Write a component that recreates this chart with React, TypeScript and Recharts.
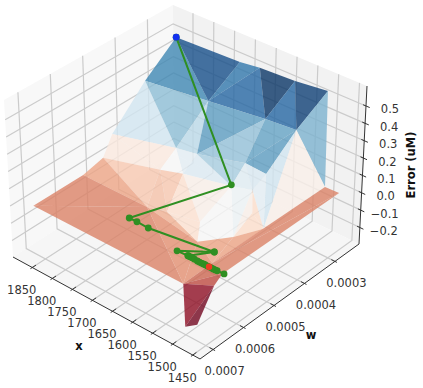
import React from 'react';
import { ScatterChart, Scatter, XAxis, YAxis } from 'recharts';

const xTicks = [1450, 1500, 1550, 1600, 1650, 1700, 1750, 1800, 1850];
const wTicks = [0.0003, 0.0004, 0.0005, 0.0006, 0.0007];
const errTicks = [-0.2, -0.1, 0, 0.1, 0.2, 0.3, 0.4, 0.5];
const xLimits = [1432, 1898];
const wLimits = [0.000221, 0.000743];
const errLimits = [-0.295, 0.615];

const surfaceIds = ['P0','P1','P2','P3','P4','Q0','Q1','Q2','Q3','R0','R1','R2','R3','R4','S0','S1','S2','S3','S4','T0','T1','T2','T3','T4','T5','Y0','Y1','U0','V0','W','U1','SB','SC','SD','G1','G2','G3'];
const surfaceX = [1872,1718,1670,1585,1506,1872,1718,1580,1505,1867,1710,1659,1542,1491,1858,1717,1661,1543,1492,1838,1681,1632,1551,1504,1504,1875,1506,1469,1504,1521,1476,1466,1502,1479,1526,1462,1456];
const surfaceW = [245,245,245,245,245,343,343,343,343,455,455,455,455,455,497,497,497,497,497,586,586,586,586,531,443,699,699,245,245,586,612,652,699,690,627,596,544].map(v => v * 1e-6);
const surfaceErr = [0.474,0.489,0.505,0.516,0.539,0.321,0.371,0.414,0.43,0.136,0.233,0.255,0.332,0.325,0.053,0.146,0.187,0.249,0.282,0.077,0.076,0.105,0.14,0.095,-0.015,-0.019,-0.021,-0.012,-0.015,-0.056,-0.033,-0.042,-0.254,-0.227,0.105,0.168,0.248];

const triangles = [
  'P0 Q0 Q1','P0 Q1 P1','P1 Q1 P2','Q1 Q2 P2','P2 Q2 P3','Q2 Q3 P3','P3 Q3 P4','P4 Q3 V0',
  'Q0 R0 R1','Q0 Q1 R1','Q1 R1 R2','Q1 R2 Q2','Q2 R2 R3','Q2 R3 Q3','Q3 R3 R4',
  'R4 Q3 T5','Q3 T5 V0','R4 S4 T5',
  'R0 R1 S1','R0 S1 S0','R1 R2 S2','R1 S1 S2','R2 S3 S2','R2 R3 S3','R3 S3 S4','R3 S4 R4',
  'S0 S1 T1','S1 S2 T2','S1 T2 T1','S2 S3 T3','S2 T3 T2','S3 S4 G2','S3 G2 G1','S3 G1 T3','S4 T5 G3','G3 T5 G2','S4 G3 G2',
  'T1 T2 G1','T2 T3 G1',
  'S0 T0 T1','Y0 T0 T1','Y0 T1 Y1','T1 G1 Y1','G1 G2 W','G1 W Y1','G2 T5 W',
  'U0 V0 W','U0 W U1','Y1 W U1','Y1 U1 SB','Y1 SB SC','SB SC SD',
];
const triangleShades = [
  0.8,0.93,0.84,0.88,0.98,0.88,0.96,0.72,
  0.6,0.7,0.63,0.76,0.69,0.75,0.76,
  0.6,0.47,0.55,
  0.45,0.45,0.55,0.5,0.57,0.66,0.56,0.58,
  0.37,0.37,0.36,0.47,0.42,0.53,0.5,0.5,0.41,0.41,0.47,
  0.33,0.42,
  0.31,0.26,0.26,0.28,0.31,0.28,0.31,
  0.26,0.26,0.22,0.18,0.07,0.03,
];

const streakStart = [[1572,245,.525],[1558,245,.527],[1544,245,.529],[1530,245,.532],[1516,245,.536],[1565,343,.418],[1552,343,.42],[1540,343,.422],[1528,343,.425],[1516,343,.428],[1535,455,.33],[1525,455,.33],[1515,455,.328],[1505,455,.327],[1530,497,.26],[1520,497,.265],[1510,497,.27],[1500,497,.275],[1700,343,.375],[1690,455,.24],[1500,699,-.1],[1490,680,-.05]];
const streakEnd = [[1560,343,.418],[1545,343,.421],[1532,343,.424],[1520,343,.427],[1510,343,.429],[1535,455,.33],[1525,455,.33],[1515,455,.328],[1505,455,.327],[1495,455,.326],[1535,497,.252],[1525,497,.258],[1515,497,.265],[1505,497,.27],[1528,620,.11],[1510,615,.12],[1495,610,.14],[1478,605,.15],[1700,455,.24],[1680,497,.17],[1488,695,-.22],[1496,699,-.25]];

const pathX = [1872,1543,1726,1707,1679,1532,1588,1561,1532,1561,1556,1551,1545,1538,1533,1528,1523,1519,1514,1509,1504,1499,1494,1489,1472];
const pathW = [245,497,586,586,586,565,612,612,565,612,612,612,612,612,612,612,612,612,612,612,612,612,612,612,612].map(v => v * 1e-6);
const pathErr = [0.474,0.255,-0.04,-0.039,-0.042,-0.032,-0.035,-0.031,-0.032,-0.031,-0.031,-0.031,-0.032,-0.034,-0.034,-0.034,-0.033,-0.033,-0.033,-0.033,-0.033,-0.033,-0.033,-0.032,-0.03];
const startPoint = [1872, 0.000245, 0.474];
const bestPoint = [1509, 0.000612, -0.033];

const rdBu = [[103,0,31],[178,24,43],[214,96,77],[244,165,130],[253,219,199],[247,247,247],[209,229,240],[146,197,222],[67,147,195],[33,102,172],[5,48,97]];
function shadeColor(t: number) {
  const p = Math.max(0, Math.min(0.9999, t)) * 10, i = Math.floor(p), f = p - i;
  const lit = 1 - Math.min(0.08, 0.4 * Math.max(0, Math.abs(t - 0.5) - 0.1));
  const c = rdBu[i].map((v, k) => Math.round((v + (rdBu[i + 1][k] - v) * f) * lit));
  return `rgb(${c[0]},${c[1]},${c[2]})`;
}

// Box corners on the page: bottom and top of each vertical edge
const corners: any = { F0: [200,359], F1: [199,192], L0: [13,257], L1: [4,100], R0: [359,244], R1: [367,86], B0: [174,154], B1: [173,5] };
const mix = (p: number[], q: number[], t: number) => [p[0] + (q[0]-p[0])*t, p[1] + (q[1]-p[1])*t];
function project(x: number, w: number, e: number) {
  const a = (x - xLimits[0]) / (xLimits[1] - xLimits[0]);
  const b = (w - wLimits[0]) / (wLimits[1] - wLimits[0]);
  const c = (e - errLimits[0]) / (errLimits[1] - errLimits[0]);
  const f = mix(corners.F0, corners.F1, c), l = mix(corners.L0, corners.L1, c), r = mix(corners.R0, corners.R1, c), k = mix(corners.B0, corners.B1, c);
  const p = mix(mix(r, k, a), mix(f, l, a), b);
  return { px: p[0], py: p[1] };
}
const pt = (v: number[]) => project(v[0], v[1], v[2]);
const NoDot = () => null;
const polygonLine = (fill: string, opacity: number) => (props: any) => (
  <polygon points={props.points.map((q: any) => `${q.x},${q.y}`).join(' ')} fill={fill} fillOpacity={opacity} stroke="none" />
);
const strokeLine = (stroke: string, width: number, opacity = 1) => (props: any) => (
  <path d={'M' + props.points.map((q: any) => `${q.x},${q.y}`).join('L')} fill="none" stroke={stroke} strokeWidth={width} strokeOpacity={opacity} />
);
const Poly = (key: string, pts: number[][], fill: string, opacity = 1) => (
  <Scatter key={key} data={pts.map(pt)} isAnimationActive={false} shape={NoDot} line={polygonLine(fill, opacity)} />
);
const Seg = (key: string, pts: number[][], stroke: string, width: number, opacity = 1) => (
  <Scatter key={key} data={pts.map(pt)} isAnimationActive={false} shape={NoDot} line={strokeLine(stroke, width, opacity)} />
);
const dot = (fill: string, r: number, fillOpacity = 1) => (props: any) => <circle cx={props.cx} cy={props.cy} r={r} fill={fill} fillOpacity={fillOpacity} />;
const Label = (props: any) => {
  const d = props.payload || props;
  return (
    <text x={props.cx + (d.dx || 0)} y={props.cy + (d.dy || 0)} textAnchor="middle" dominantBaseline="central"
      fontFamily="DejaVu Sans" fontSize={11.5} fontWeight={d.bold ? 700 : 400} fill={d.bold ? '#111' : '#333'}
      transform={d.rot ? `rotate(${d.rot} ${props.cx} ${props.cy})` : undefined}>{d.text}</text>
  );
};

const [x0, x1] = xLimits, [w0, w1] = wLimits, [e0, e1] = errLimits;
const gridColor = '#cbcbcb';
const sign = (v: number) => (v < 0 ? '\u2212' + Math.abs(v).toFixed(1) : v.toFixed(1));
const labels = [
  ...xTicks.map(v => ({ ...project(v, w1, e0), dx: -10.5, dy: 22.5, text: String(v) })),
  ...wTicks.map(v => ({ ...project(x0, v, e0), dx: 11.5, dy: 21.5, text: v.toFixed(4) })),
  ...errTicks.map(v => ({ ...project(x0, w0, v), dx: 24, dy: 3.5, text: sign(v) })),
];
const axisTitles = [
  { px: 79, py: 346, text: 'x', bold: true },
  { px: 311, py: 335, text: 'w', bold: true },
  { px: 411, py: 165, text: 'Error (uM)', bold: true, rot: -90 },
];

export default function App() {
  const idx = (n: string) => surfaceIds.indexOf(n);
  const vert = (n: string) => { const i = idx(n); return [surfaceX[i], surfaceW[i], surfaceErr[i]]; };
  return (
    <div style={{ position: 'absolute', left: 0, top: 0 }}>
      <ScatterChart width={423} height={388} margin={{ top: 0, right: 0, bottom: 0, left: 0 }}>
        <XAxis type="number" dataKey="px" domain={[0, 423]} hide allowDataOverflow />
        <YAxis type="number" dataKey="py" domain={[0, 388]} reversed hide allowDataOverflow />
        {Poly('paneL', [[x1,w0,e0],[x1,w1,e0],[x1,w1,e1],[x1,w0,e1]], '#f8f8f8')}
        {Poly('paneR', [[x0,w0,e0],[x1,w0,e0],[x1,w0,e1],[x0,w0,e1]], '#f2f2f2')}
        {Poly('paneF', [[x0,w0,e0],[x1,w0,e0],[x1,w1,e0],[x0,w1,e0]], '#f6f6f6')}
        {xTicks.map(v => Seg('gx' + v, [[v,w1,e0],[v,w0,e0],[v,w0,e1]], gridColor, 1.2))}
        {wTicks.map(v => Seg('gw' + v, [[x0,v,e0],[x1,v,e0],[x1,v,e1]], gridColor, 1.2))}
        {errTicks.map(v => Seg('gz' + v, [[x0,w0,v],[x1,w0,v],[x1,w1,v]], gridColor, 1.2))}
        {Seg('axX', [[x1,w1,e0],[x0,w1,e0]], '#333', 1)}
        {Seg('axW', [[x0,w1,e0],[x0,w0,e0]], '#333', 1)}
        {Seg('axE', [[x0,w0,e0],[x0,w0,e1]], '#333', 1)}
        {xTicks.map(v => Seg('tx' + v, [[v,w1-0.000012,e0],[v,w1+0.000006,e0]], '#333', 1))}
        {wTicks.map(v => Seg('tw' + v, [[x0+9,v,e0],[x0-5,v,e0]], '#333', 1))}
        {errTicks.map(v => Seg('tz' + v, [[x0+7,w0,v],[x0-9,w0,v]], '#333', 1))}
        {triangles.map((t, i) => Poly('tri' + i, t.split(' ').map(vert), shadeColor(triangleShades[i]), 0.8))}
        {streakStart.map((s, i) => Seg('st' + i, [s, streakEnd[i]], i >= 20 ? '#b8b0c8' : '#ffffff', 0.9, i >= 20 ? 0.6 : 0.35))}
        <Scatter data={pathX.map((x, i) => project(x, pathW[i], pathErr[i]))} isAnimationActive={false}
          shape={dot('#2f8f22', 3.4)} line={strokeLine('#2f8f22', 2)} />
        <Scatter data={[pt(startPoint)]} isAnimationActive={false} shape={dot('#1230f0', 3.4)} />
        <Scatter data={[pt(bestPoint)]} isAnimationActive={false} shape={dot('#ee3a22', 3.2)} />
        <Scatter data={labels} isAnimationActive={false} shape={Label} />
        <Scatter data={axisTitles} isAnimationActive={false} shape={Label} />
      </ScatterChart>
    </div>
  );
}
